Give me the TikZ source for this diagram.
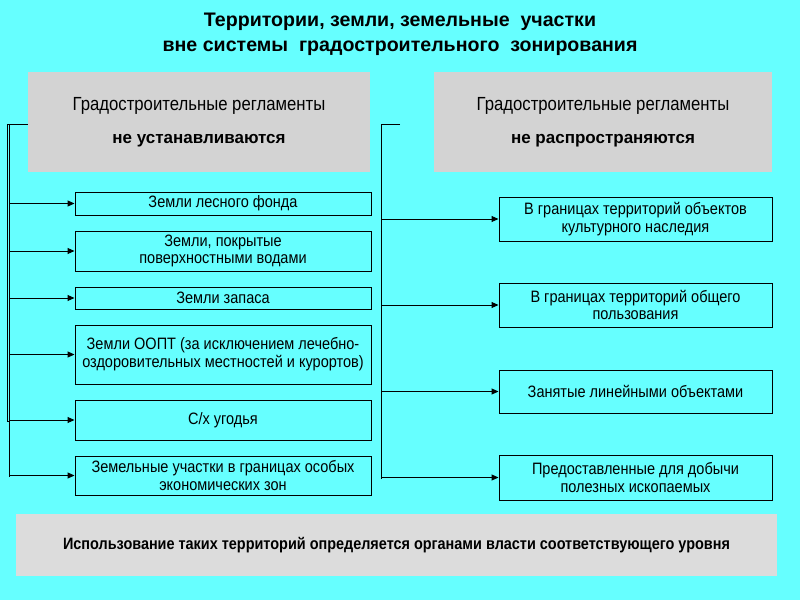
\documentclass[tikz,border=0pt]{standalone}
\usepackage{fontspec}
\setmainfont{Liberation Sans}
\newfontfamily\narrowfont[FakeStretch=0.88]{Liberation Sans}
\usetikzlibrary{arrows.meta}
\definecolor{bgcyan}{RGB}{102,255,255}
\definecolor{topgray}{RGB}{211,211,211}
\definecolor{botgray}{RGB}{220,220,220}
\begin{document}
\begin{tikzpicture}[x=1pt,y=-1pt,
  graybox/.style={draw=none,fill=topgray,minimum width=342pt,minimum height=100pt,align=center,inner sep=0pt},
  itembox/.style={draw=black,line width=1pt,fill=bgcyan,align=center,inner sep=0pt,font=\narrowfont\fontsize{16.5}{17.5}\selectfont},
  conn/.style={draw=black,line width=1pt},
  arr/.style={conn,-{Triangle[length=7pt,width=6pt]}}
]
\fill[bgcyan] (0,0) rectangle (800,600);
\useasboundingbox (0,0) rectangle (800,600);

\node[font=\fontsize{19.6}{25}\selectfont\bfseries,align=center] (title) at (400,34)
  {Территории,\ земли,\ земельные\ \ участки\\вне\ системы\ \ градостроительного\ \ зонирования};

\node[graybox] (tl) at (199,122) {\narrowfont\fontsize{19}{20}\selectfont Градостроительные регламенты\\[19pt]\fontsize{17}{18}\selectfont\bfseries не устанавливаются};
\node[graybox,minimum width=338pt] (tr) at (603,122) {\narrowfont\fontsize{19}{20}\selectfont Градостроительные регламенты\\[19pt]\fontsize{17}{18}\selectfont\bfseries не распространяются};

\node[itembox,minimum width=296pt,minimum height=23pt] (l1) at (223,203.5) {Земли лесного фонда};
\node[itembox,minimum width=296pt,minimum height=40pt] (l2) at (223,251) {Земли, покрытые\\поверхностными водами};
\node[itembox,minimum width=296pt,minimum height=22pt] (l3) at (223,298) {Земли запаса};
\node[itembox,minimum width=296pt,minimum height=59pt] (l4) at (223,354.5) {Земли ООПТ (за исключением лечебно-\\[0.5pt]оздоровительных местностей и курортов)};
\node[itembox,minimum width=296pt,minimum height=40pt] (l5) at (223,420) {С/х угодья};
\node[itembox,minimum width=296pt,minimum height=39pt] (l6) at (223,475.5) {Земельные участки в границах особых\\экономических зон};

\node[itembox,minimum width=273pt,minimum height=44pt] (r1) at (635.5,219) {В границах территорий объектов\\культурного наследия};
\node[itembox,minimum width=273pt,minimum height=44pt] (r2) at (635.5,305) {В границах территорий общего\\пользования};
\node[itembox,minimum width=273pt,minimum height=43pt] (r3) at (635.5,391.5) {Занятые линейными объектами};
\node[itembox,minimum width=273pt,minimum height=45pt] (r4) at (635.5,477.5) {Предоставленные для добычи\\полезных ископаемых};

\node[fill=botgray,minimum width=761pt,minimum height=62pt,inner sep=0pt,font=\narrowfont\fontsize{16.4}{18}\selectfont\bfseries] (bot) at (396.5,545) {Использование таких территорий определяется органами власти соответствующего уровня};

% left bracket
\coordinate (lt) at (9,124);
\coordinate (lt2) at (7,124);
\draw[conn] (tl.west |- lt) -- (lt2) -- (7,421) -- (9,421);
\draw[conn] (lt) -- (9,477);
\foreach \n in {l1,l2,l3,l4,l5,l6}{
  \draw[arr] (lt |- \n.west) -- (\n.west);
}
% right bracket
\coordinate (rt) at (381,124);
\draw[conn] (400,124) -- (rt) -- (381,479);
\foreach \n in {r1,r2,r3,r4}{
  \draw[arr] (rt |- \n.west) -- (\n.west);
}
\end{tikzpicture}
\end{document}
